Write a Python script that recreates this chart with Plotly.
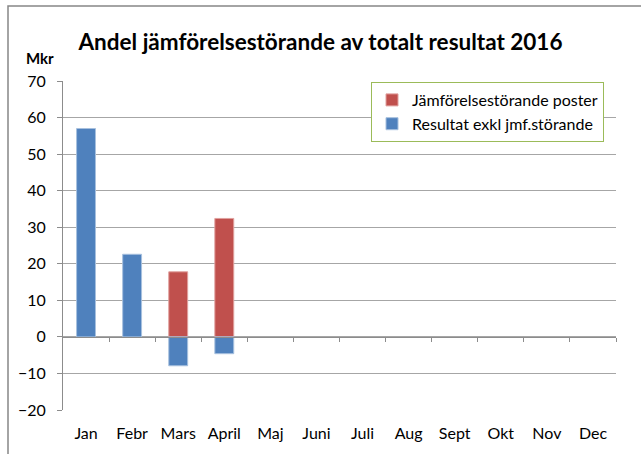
import plotly.graph_objects as go

months = ["Jan", "Febr", "Mars", "April", "Maj", "Juni", "Juli", "Aug", "Sept", "Okt", "Nov", "Dec"]
jmf_storande = [None, None, 17.8, 32.4, None, None, None, None, None, None, None, None]
resultat_exkl = [57.0, 22.6, -7.9, -4.6, None, None, None, None, None, None, None, None]
y_ticks = [-20, -10, 0, 10, 20, 30, 40, 50, 60, 70]

FONT = "Lato"
W, H = 641, 454
ML, MR, MT, MB = 63, 25, 81, 44
pw, ph = W - ML - MR, H - MT - MB

fig = go.Figure()
fig.add_trace(go.Bar(
    x=months, y=jmf_storande, name="Jämförelsestörande poster",
    marker=dict(color="#C0504D", line=dict(color="#E0A09E", width=1)),
))
fig.add_trace(go.Bar(
    x=months, y=resultat_exkl, name="Resultat exkl jmf.störande",
    marker=dict(color="#4F81BD", line=dict(color="#A7C0DE", width=1)),
))
# invisible trace to carry the category (zero) axis
n = len(months)
fig.add_trace(go.Scatter(x=[-0.5, n - 0.5], y=[0, 0], xaxis="x2", mode="lines",
                         line=dict(width=0), showlegend=False, hoverinfo="skip"))

zero_pos = (0 - y_ticks[0]) / (y_ticks[-1] - y_ticks[0])

fig.update_layout(
    width=W, height=H,
    margin=dict(l=ML, r=MR, t=MT, b=MB, pad=0),
    paper_bgcolor="white", plot_bgcolor="white",
    barmode="relative", bargap=0.59,
    font=dict(family=FONT, size=16, color="#000000"),
    title=dict(text="<b>Andel jämförelsestörande av totalt resultat 2016</b>",
               font=dict(family=FONT, size=22.5, color="#000000"),
               x=0.5, xanchor="center", y=1 - 42 / H, yanchor="middle"),
    xaxis=dict(type="category", categoryarray=months, showline=False, ticks="",
               showgrid=False, zeroline=False, ticklabelstandoff=12,
               tickfont=dict(size=16), range=[-0.5, n - 0.5]),
    xaxis2=dict(overlaying="x", anchor="free", position=zero_pos, range=[-0.5, n - 0.5],
                showline=True, linecolor="#8C8C8C", linewidth=1, ticks="outside",
                ticklen=4, tickcolor="#8C8C8C", tickmode="array",
                tickvals=[i + 0.5 for i in range(n)], showticklabels=False,
                showgrid=False, zeroline=False, side="bottom"),
    yaxis=dict(range=[y_ticks[0], y_ticks[-1]], tickvals=y_ticks, showline=True,
               linecolor="#8C8C8C", linewidth=1, ticks="outside", ticklen=5,
               tickcolor="#8C8C8C", showgrid=True, gridcolor="#A6A6A6", gridwidth=1,
               zeroline=False, tickfont=dict(size=16), ticklabelstandoff=8),
    legend=dict(x=(604 - ML) / pw, y=1 - (82 - MT) / ph, xanchor="right", yanchor="top",
                bordercolor="#9BBB59", borderwidth=1, bgcolor="white",
                font=dict(size=16), traceorder="normal", itemwidth=30),
    annotations=[dict(text="<b>Mkr</b>", xref="paper", yref="paper",
                      x=(24 - ML) / pw, y=1 + (MT - 58) / ph, xanchor="left",
                      yanchor="middle", showarrow=False, font=dict(size=15))],
    shapes=[dict(type="rect", xref="paper", yref="paper",
                 x0=(8 - ML) / pw, x1=(W + 20 - ML) / pw,
                 y0=-(MB + 20) / ph, y1=1 + (MT - 6) / ph,
                 line=dict(color="#868686", width=1.5), layer="below")],
)

fig.write_html("out.html", config={"displayModeBar": False},
               post_script="document.body.style.margin='0';document.body.style.overflow='hidden';")
